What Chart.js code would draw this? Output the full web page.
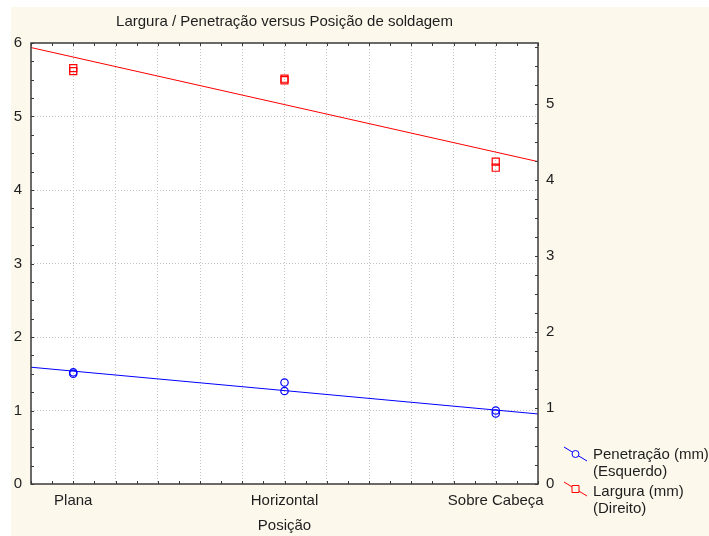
<!DOCTYPE html>
<html><head><meta charset="utf-8">
<script src="https://cdn.jsdelivr.net/npm/chart.js@4"></script>
<style>html,body{margin:0;padding:0;background:#fff;} #wrap{width:709px;height:536px;position:relative}</style>
</head><body><div id="wrap"><canvas id="c" width="709" height="536"></canvas></div>
<script>
// ---- data ----
const categories = ['Plana', 'Horizontal', 'Sobre Cabeça'];
const penetracao = [[1.52, 1.50], [1.38, 1.265], [1.00, 0.96]];   // left axis (mm)
const largura = [[5.47, 5.43], [5.33, 5.31], [4.24, 4.16]];        // right axis (mm)
const leftTicks = [0, 1, 2, 3, 4, 5, 6];
const rightTicks = [0, 1, 2, 3, 4, 5];
const xRange = [0.8, 3.2];
const leftRange = [0, 6];
const rightRange = [0, 5.8];
const titleText = 'Largura / Penetração versus Posição de soldagem';
const xTitle = 'Posição';
const legendLines = [['Penetração (mm)', '(Esquerdo)'], ['Largura (mm)', '(Direito)']];

const FONT = "'Liberation Sans', Arial, sans-serif";
const TXT = '#1e1e1e';

function toPoints(groups) {
  const pts = [];
  groups.forEach((g, i) => g.forEach(v => pts.push({ x: i + 1, y: v })));
  return pts;
}
function fitLine(pts) {
  const n = pts.length;
  const mx = pts.reduce((s, p) => s + p.x, 0) / n;
  const my = pts.reduce((s, p) => s + p.y, 0) / n;
  let sxy = 0, sxx = 0;
  pts.forEach(p => { sxy += (p.x - mx) * (p.y - my); sxx += (p.x - mx) * (p.x - mx); });
  const b = sxy / sxx;
  return xRange.map(x => ({ x: x, y: my + b * (x - mx) }));
}
const penPts = toPoints(penetracao);
const larPts = toPoints(largura);

const near = (a, b) => Math.abs(a - b) < 1e-6;

const framePlugin = {
  id: 'frame',
  beforeDraw(chart) {
    const { ctx, chartArea: a } = chart;
    ctx.save();
    ctx.fillStyle = '#fdf8ec';
    ctx.fillRect(11, 7, chart.width - 11, chart.height - 7);
    ctx.fillStyle = '#ffffff';
    ctx.fillRect(a.left, a.top, a.right - a.left, a.bottom - a.top);
    ctx.restore();
  },
  afterDraw(chart) {
    const { ctx, chartArea: a, scales } = chart;
    ctx.save();
    ctx.strokeStyle = '#3a3a3a';
    ctx.lineWidth = 1;
    ctx.beginPath();
    // inward ticks
    for (let v = leftRange[0]; v <= leftRange[1] + 1e-9; v += 0.25) {
      const y = Math.round(scales.y.getPixelForValue(v)) + 0.5;
      ctx.moveTo(a.left, y); ctx.lineTo(a.left + 3, y);
    }
    for (let v = rightRange[0]; v <= rightRange[1] + 1e-9; v += 0.25) {
      const y = Math.round(scales.y2.getPixelForValue(v)) + 0.5;
      ctx.moveTo(a.right, y); ctx.lineTo(a.right - 3, y);
    }
    for (let v = xRange[0]; v <= xRange[1] + 1e-9; v += 0.1) {
      const x = Math.round(scales.x.getPixelForValue(v)) + 0.5;
      ctx.moveTo(x, a.top); ctx.lineTo(x, a.top + 3);
      ctx.moveTo(x, a.bottom); ctx.lineTo(x, a.bottom - 3);
    }
    ctx.stroke();
    ctx.lineWidth = 1.5;
    ctx.strokeRect(a.left, a.top, a.right - a.left, a.bottom - a.top);

    // legend
    const items = [
      { color: '#0000ff', style: 'circle', y0: 447, y1: 461, ty: 455 },
      { color: '#ff0000', style: 'rect', y0: 482, y1: 496, ty: 492 }
    ];
    ctx.lineWidth = 1;
    items.forEach((it, i) => {
      ctx.strokeStyle = it.color;
      ctx.beginPath(); ctx.moveTo(564, it.y0); ctx.lineTo(587, it.y1); ctx.stroke();
      const cx = 575.5, cy = (it.y0 + it.y1) / 2;
      ctx.fillStyle = '#fdf8ec';
      ctx.beginPath();
      if (it.style === 'circle') { ctx.arc(cx, cy, 3.5, 0, Math.PI * 2); }
      else { ctx.rect(cx - 3.5, cy - 3.5, 7, 7); }
      ctx.fill(); ctx.stroke();
      ctx.fillStyle = TXT;
      ctx.font = '15px ' + FONT;
      ctx.textAlign = 'left'; ctx.textBaseline = 'middle';
      ctx.fillText(legendLines[i][0], 593, it.ty);
      ctx.fillText(legendLines[i][1], 593, it.ty + 17);
    });
    ctx.restore();
  }
};

new Chart(document.getElementById('c'), {
  type: 'scatter',
  data: {
    datasets: [
      { label: 'Penetração (mm)', data: penPts, yAxisID: 'y', showLine: false,
        pointStyle: 'circle', pointRadius: 3.7, pointBorderWidth: 1.2,
        borderColor: '#0000ff', backgroundColor: 'rgba(0,0,0,0)' },
      { label: 'Largura (mm)', data: larPts, yAxisID: 'y2', showLine: false,
        pointStyle: 'rect', pointRadius: 5, pointBorderWidth: 1.2,
        borderColor: '#ff0000', backgroundColor: 'rgba(0,0,0,0)' },
      { type: 'line', label: 'fitP', data: fitLine(penPts), yAxisID: 'y',
        borderColor: '#0000ff', borderWidth: 1, pointRadius: 0, fill: false },
      { type: 'line', label: 'fitL', data: fitLine(larPts), yAxisID: 'y2',
        borderColor: '#ff0000', borderWidth: 1, pointRadius: 0, fill: false }
    ]
  },
  options: {
    responsive: false, animation: false, devicePixelRatio: 1,
    layout: { padding: 0 },
    plugins: {
      legend: { display: false },
      tooltip: { enabled: false },
      title: { display: true, text: titleText, fullSize: false, color: TXT,
        font: { size: 15, family: FONT, weight: 'normal' }, padding: { top: 13, bottom: 12 } }
    },
    scales: {
      x: {
        type: 'linear', position: 'bottom', min: xRange[0], max: xRange[1],
        afterFit: s => { s.height = 52; },
        ticks: { stepSize: 0.2, autoSkip: false, maxRotation: 0, padding: 8, color: TXT,
          font: { size: 15, family: FONT },
          callback: v => (near(v, Math.round(v)) && Math.round(v) >= 1 && Math.round(v) <= categories.length) ? categories[Math.round(v) - 1] : '' },
        grid: { drawTicks: false, tickLength: 0,
          color: c => (c.tick && c.tick.value > xRange[0] + 1e-6 && c.tick.value < xRange[1] - 1e-6) ? '#c4c4c4' : 'rgba(0,0,0,0)' },
        border: { display: false, dash: [1, 2] },
        title: { display: true, text: xTitle, color: TXT, font: { size: 15, family: FONT }, padding: { top: 0, bottom: 1 } }
      },
      y: {
        type: 'linear', position: 'left', min: leftRange[0], max: leftRange[1],
        afterFit: s => { s.width = 31; },
        ticks: { stepSize: 1, padding: 9, color: TXT, font: { size: 15, family: FONT },
          callback: v => leftTicks.some(t => near(t, v)) ? String(v) : '' },
        grid: { drawTicks: false, tickLength: 0,
          color: c => (c.tick && c.tick.value > leftRange[0] + 1e-6 && c.tick.value < leftRange[1] - 1e-6) ? '#c4c4c4' : 'rgba(0,0,0,0)' },
        border: { display: false, dash: [1, 2] }
      },
      y2: {
        type: 'linear', position: 'right', min: rightRange[0], max: rightRange[1],
        afterFit: s => { s.width = 171; },
        ticks: { stepSize: 1, padding: 8, color: TXT, font: { size: 15, family: FONT },
          callback: v => rightTicks.some(t => near(t, v)) ? String(v) : '' },
        grid: { display: false, drawTicks: false, tickLength: 0 },
        border: { display: false }
      }
    }
  },
  plugins: [framePlugin]
});
</script>
</body></html>
